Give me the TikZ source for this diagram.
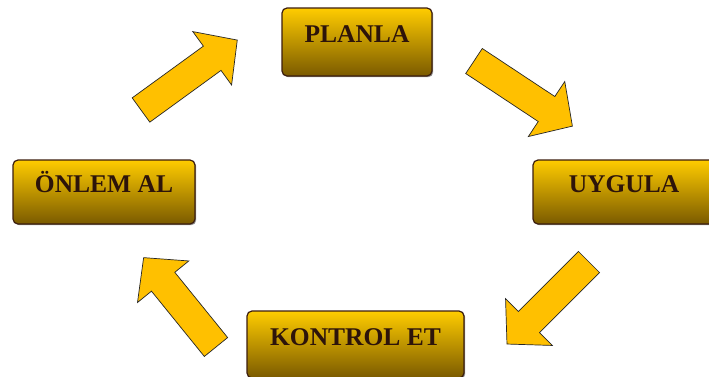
\documentclass[tikz,border=0pt]{standalone}
\usepackage{fontspec}
\setmainfont{Liberation Serif}
\usetikzlibrary{shadows}
\definecolor{boxtop}{RGB}{255,204,0}
\definecolor{boxbot}{RGB}{122,90,0}
\definecolor{arrowfill}{RGB}{255,192,0}
\definecolor{txtcol}{RGB}{45,20,10}
\definecolor{edgecol}{RGB}{60,30,15}
\tikzset{
  stagebox/.style={draw=edgecol, line width=1.2pt, rounded corners=5pt,
    top color=boxtop, bottom color=boxbot,
    drop shadow={shadow xshift=1.2pt, shadow yshift=-1.2pt, fill=black!70, opacity=0.6},
    font=\fontsize{25.5}{25.5}\bfseries\selectfont, text=txtcol,
    text height=17pt, text depth=16pt, inner sep=0pt},
  bigarrow/.style={fill=arrowfill, draw=black!85, line width=0.7pt, line join=miter}
}
\newcommand\blockarr[4]{%
  \begin{scope}[shift={(#1,#2)}, rotate=#3]
    \draw[bigarrow] (0,-15) -- (#4-31,-15) -- (#4-31,-33) -- (#4,0)
      -- (#4-31,33) -- (#4-31,15) -- (0,15) -- cycle;
  \end{scope}}
\begin{document}
\begin{tikzpicture}[x=1pt, y=-1pt]
  \clip (0,0) rectangle (709,376);
  \fill[white] (0,0) rectangle (709,376);
  \node[stagebox, minimum width=150pt, minimum height=68pt] (planla) at (357,42) {PLANLA};
  \node[stagebox, minimum width=182pt, minimum height=64pt] (uygula) at (624,192) {UYGULA};
  \node[stagebox, minimum width=217pt, minimum height=67pt] (kontrol) at (355.5,344.5) {KONTROL ET};
  \node[stagebox, minimum width=182pt, minimum height=64pt] (onlem) at (104,192) {ÖNLEM AL};
  % block arrows between the stages
  \blockarr{141}{110}{36}{119}
  \blockarr{474}{61}{-33.5}{118}
  \blockarr{589}{262}{225}{116}
  \blockarr{216}{347}{129}{115}
\end{tikzpicture}
\end{document}
